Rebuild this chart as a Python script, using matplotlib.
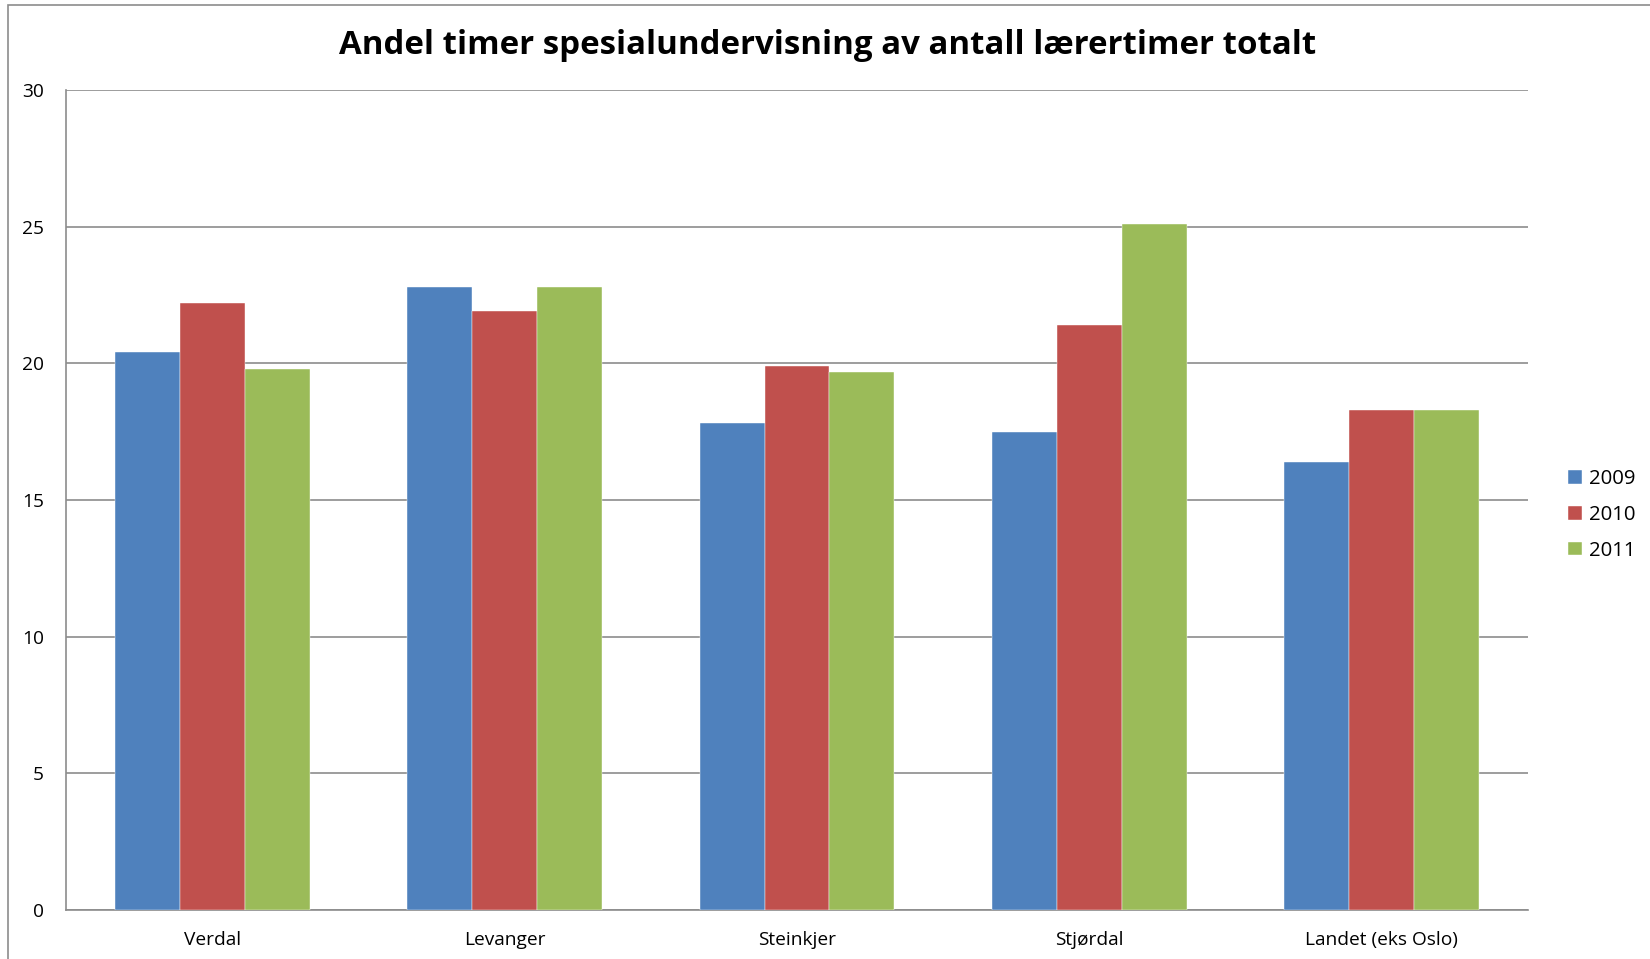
import numpy as np
import matplotlib
matplotlib.use("Agg")
import matplotlib.pyplot as plt
from matplotlib.patches import Rectangle

plt.rcParams['font.family'] = ['Open Sans', 'DejaVu Sans']

categories = ['Verdal', 'Levanger', 'Steinkjer', 'Stjørdal', 'Landet (eks Oslo)']
years = ['2009', '2010', '2011']
v2009 = [20.4, 22.8, 17.8, 17.5, 16.4]
v2010 = [22.2, 21.9, 19.9, 21.4, 18.3]
v2011 = [19.8, 22.8, 19.7, 25.1, 18.3]
colors = ['#4F81BD', '#C0504D', '#9BBB59']

fig = plt.figure(figsize=(16.5, 9.59), dpi=100)
ax = fig.add_axes([66/1650, 1 - 910/959, (1528 - 66)/1650, (910 - 90)/959])

x = np.arange(len(categories))
w = 0.222
for i, (vals, c) in enumerate(zip([v2009, v2010, v2011], colors)):
    ax.bar(x + (i - 1) * w, vals, w, color=c, label=years[i], zorder=3,
           edgecolor='white', linewidth=0.3)

ax.set_xlim(-0.5, len(categories) - 0.5)
ax.set_ylim(0, 30)
ax.set_yticks(range(0, 31, 5))
ax.set_xticks(x)
ax.set_xticklabels(categories)
ax.tick_params(length=0, labelsize=13.8, colors='black')
ax.tick_params(axis='y', pad=16)
ax.tick_params(axis='x', pad=15)
ax.yaxis.grid(True, color='#8c8c8c', linewidth=1.2, zorder=0)
for s in ['top', 'right']:
    ax.spines[s].set_visible(False)
for s in ['left', 'bottom']:
    ax.spines[s].set_color('#8c8c8c')
    ax.spines[s].set_linewidth(1.2)

fig.text(828/1650, 1 - 45/959, 'Andel timer spesialundervisning av antall lærertimer totalt',
         ha='center', va='center', fontsize=23.8, fontweight='bold')

fig.legend(loc='center left', bbox_to_anchor=(1550/1650, 1 - 515/959), frameon=False,
           fontsize=14.7, handlelength=0.65, handleheight=0.65, handletextpad=0.35,
           labelspacing=0.77)

fig.patches.append(Rectangle((8/1650, -0.1), 1.2, 1 - 5/959 + 0.1, transform=fig.transFigure,
                             fill=False, edgecolor='#8c8c8c', linewidth=1.2))

fig.savefig('out.png', dpi=100)
